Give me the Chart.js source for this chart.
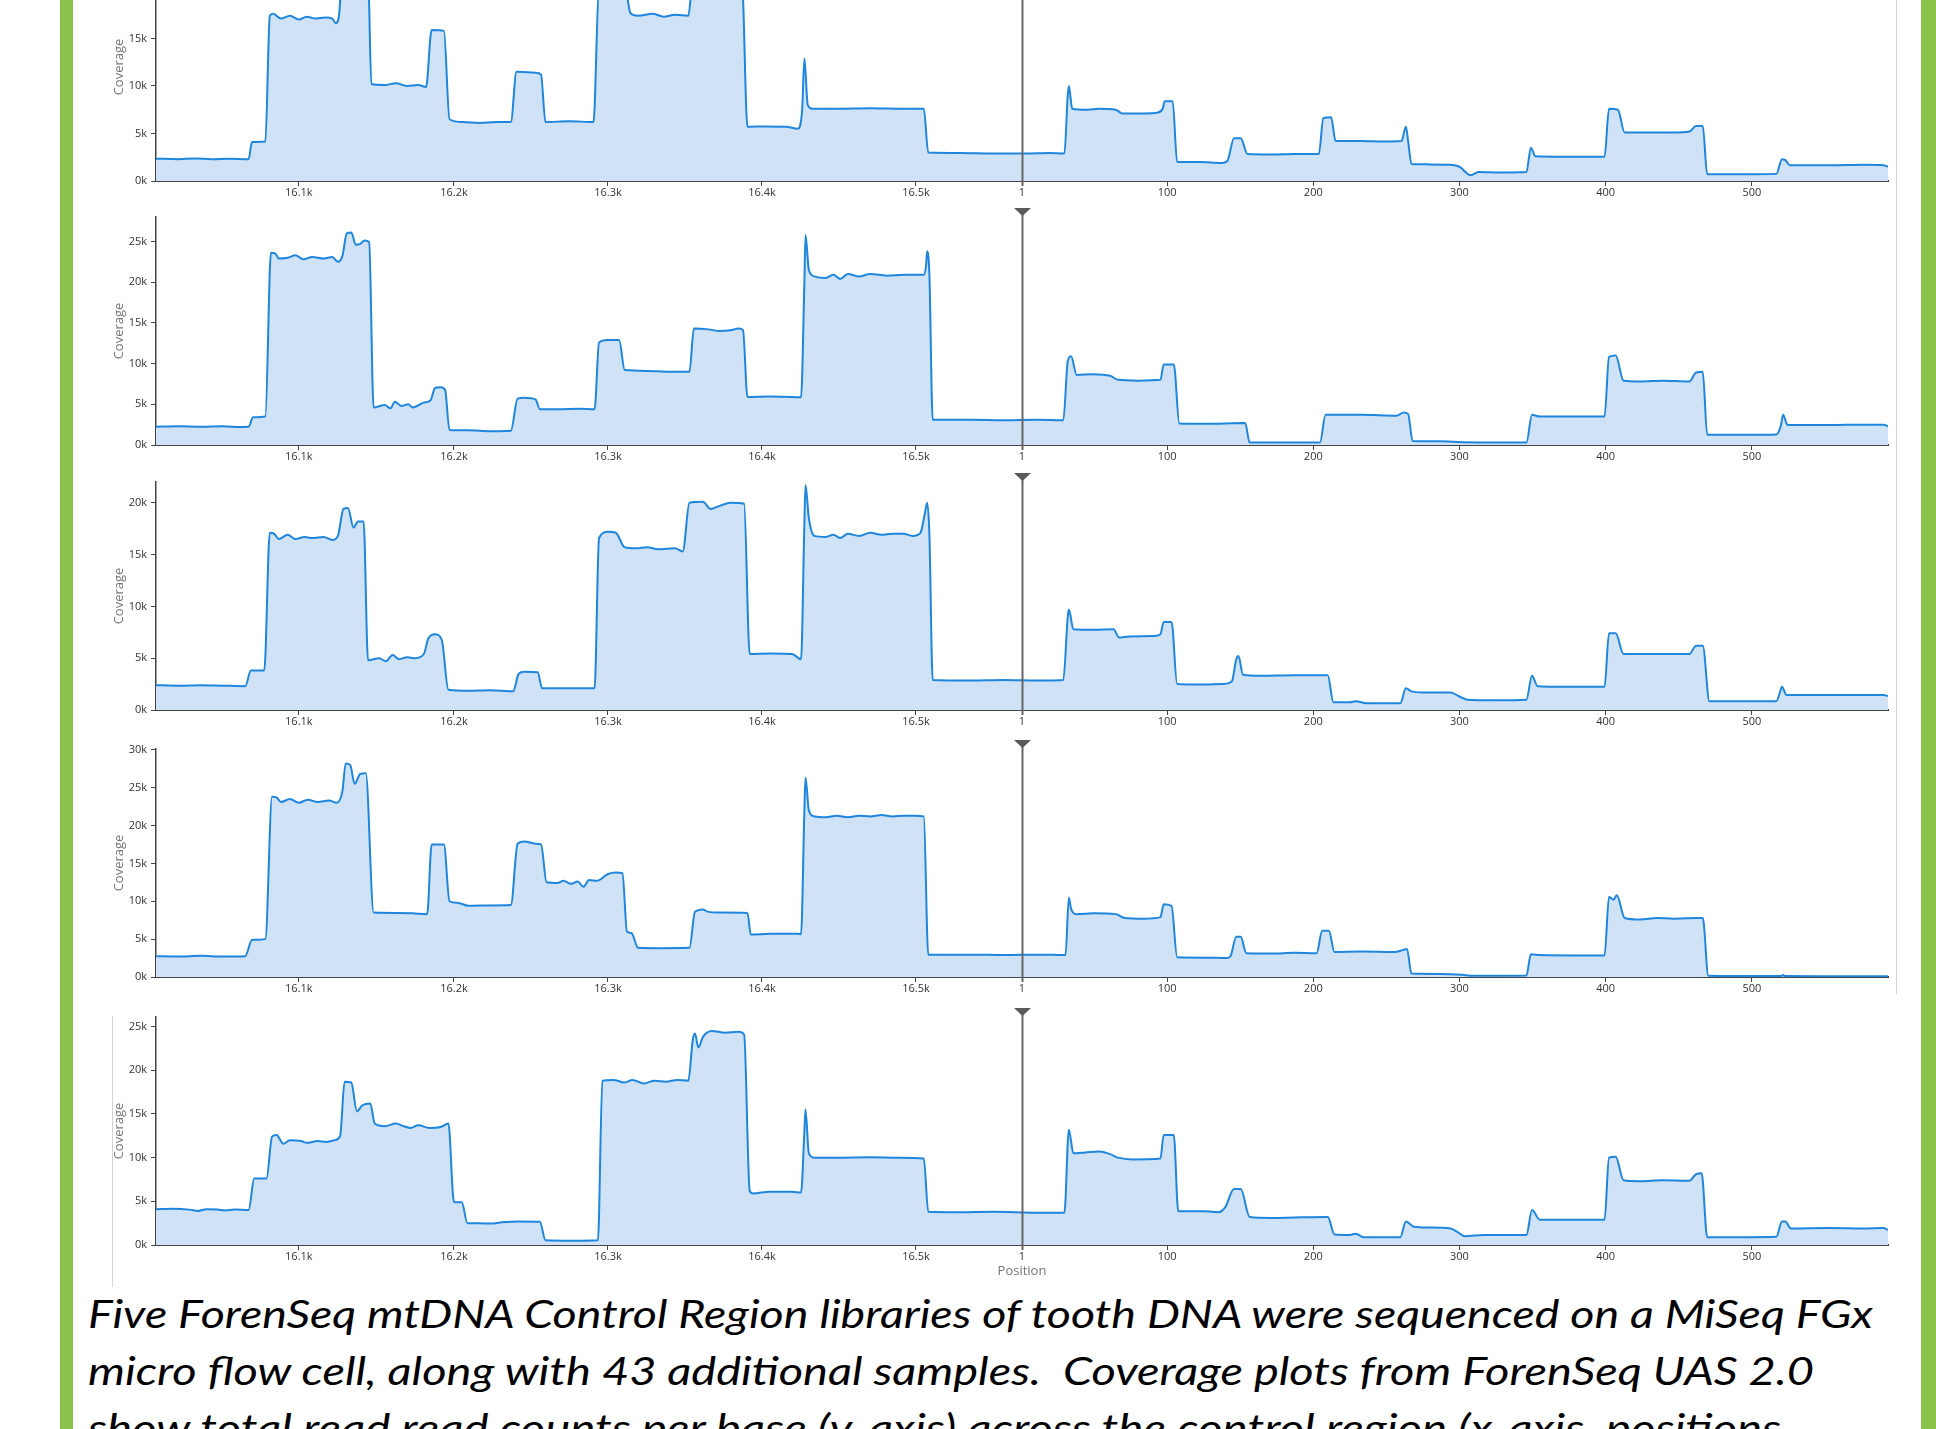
<!DOCTYPE html>
<html>
<head>
<meta charset="utf-8">
<script src="https://cdn.jsdelivr.net/npm/chart.js@4.4.0/dist/chart.umd.min.js"></script>
<style>
html, body { margin: 0; padding: 0; background: #fff; }
body { width: 1936px; height: 1429px; position: relative; overflow: hidden; }
.bar { position: absolute; top: 0; height: 1429px; background: #8bc34a; }
.rule { position: absolute; width: 1px; background: #d4d4d4; }
.caption { position: absolute; left: 88px; top: 0; font-family: Lato, 'Open Sans', sans-serif; font-style: italic;
  font-size: 39px; line-height: 39px; color: #000; white-space: pre; transform-origin: 0 0; }
.caption .b { display: inline-block; width: 0; height: 0; }
</style>
</head>
<body>
<div class="bar" style="left:60px;width:13px"></div>
<div class="bar" style="left:1921px;width:15px"></div>
<div class="rule" style="left:1896px;top:0;height:994px"></div>
<div class="rule" style="left:112px;top:1016px;height:271px"></div>

<div class="caption" data-base="1328" data-w="1785"><span class="t">Five ForenSeq mtDNA Control Region libraries of tooth DNA were sequenced on a MiSeq FGx</span><span class="b"></span></div>
<div class="caption" data-base="1385" data-w="1726"><span class="t">micro flow cell, along with 43 additional samples.  Coverage plots from ForenSeq UAS 2.0</span><span class="b"></span></div>
<div class="caption" data-base="1442" data-w="1693"><span class="t">show total read read counts per base (y-axis) across the control region (x-axis, positions</span><span class="b"></span></div>

<script>
// x axis is the plot index (bases incl. insertions), ticks placed where UAS puts them
const xTickIdx = [128, 267, 405, 543, 681, 776, 906, 1037, 1168, 1299, 1430];
const xTickLabels = ['16.1k', '16.2k', '16.3k', '16.4k', '16.5k', '1', '100', '200', '300', '400', '500'];
const xMaxIdx = 1552;
const originIdx = 776; // position 1

// y axis top for each library, coverage in thousands
const yMaxK = [24, 28, 22, 30.1, 26.1];

// coverage per library: [plot index, coverage (k)]
const coverage1 = [
  [0,2.35],[20,2.3],[35,2.38],[50,2.3],[65,2.35],[83,2.3],
  [86,4.1],[98,4.15],
  [102,17.4],[105,17.6],[112,17.1],[120,17.4],[128,17.0],[135,17.3],[143,17.1],[152,17.2],[158,17.1],[161,16.6],[164,17.4],
  [167,22],[185,22.2],[190,21.8],
  [193,10.2],[205,10.1],[215,10.3],[225,10.0],[235,10.1],[242,9.9],
  [247,15.9],[258,15.8],
  [263,6.5],[275,6.2],[290,6.1],[305,6.2],[318,6.2],
  [323,11.5],[340,11.4],[345,11.2],
  [349,6.2],[370,6.3],[392,6.2],
  [397,20.5],[420,20.8],
  [425,17.7],[432,17.4],[445,17.6],[455,17.3],[465,17.5],[477,17.4],
  [481,21],[525,21],
  [530,5.7],[545,5.75],[565,5.7],[575,5.5],
  [579,7.5],[581,12.9],[584,8],[588,7.6],[610,7.6],[640,7.65],[670,7.6],[688,7.6],
  [692,3.0],[720,2.95],[750,2.9],[780,2.9],[800,2.95],[814,2.9],
  [817,9.0],[818,10.0],[821,7.6],[835,7.5],[845,7.6],[860,7.5],[866,7.1],[885,7.1],[898,7.2],[902,7.6],[904,8.4],[911,8.4],
  [915,2.0],[935,2.0],[955,1.9],[960,2.1],
  [966,4.5],[972,4.5],
  [978,2.85],[1000,2.8],[1020,2.85],[1042,2.85],
  [1046,6.6],[1053,6.7],
  [1057,4.2],[1080,4.2],[1100,4.15],[1116,4.2],[1120,5.7],[1122,4.2],
  [1125,1.8],[1140,1.75],[1160,1.7],[1168,1.5],[1178,0.6],[1185,0.95],[1205,0.9],[1228,0.95],
  [1232,3.5],[1236,2.6],[1260,2.55],[1298,2.55],
  [1302,7.6],[1310,7.5],[1316,5.1],[1340,5.1],[1360,5.1],[1374,5.2],[1380,5.8],[1386,5.8],
  [1390,0.7],[1420,0.7],[1452,0.75],
  [1457,2.3],[1460,2.2],[1464,1.65],[1500,1.65],[1530,1.7],[1548,1.65],[1552,1.5]
];
const coverage2 = [
  [0,2.25],[20,2.3],[40,2.25],[60,2.3],[75,2.2],[83,2.25],
  [87,3.4],[98,3.5],
  [103,23.6],[107,23.5],[110,22.9],[118,23.0],[125,23.3],[132,22.8],[140,23.1],[150,22.9],[158,23.1],[163,22.5],[167,23.2],[171,26.0],[175,26.1],[179,24.6],[183,24.7],[187,25.1],[191,24.9],
  [195,4.6],[205,4.9],[210,4.5],[214,5.3],[220,4.8],[226,5.0],[230,4.6],[240,5.2],[246,5.5],[250,7.0],[255,7.1],[259,6.8],
  [263,1.85],[280,1.8],[300,1.7],[318,1.75],
  [324,5.7],[330,5.8],[340,5.6],[344,4.4],[360,4.4],[380,4.45],[393,4.4],
  [397,12.6],[405,12.9],[415,12.9],[420,9.2],[440,9.1],[460,9.0],[478,9.0],
  [482,14.3],[495,14.2],[505,14.0],[515,14.1],[522,14.3],[526,14.1],
  [530,5.9],[550,5.95],[570,5.9],[578,5.85],
  [581,20],[582,25.8],[585,21.5],[590,20.7],[600,20.5],[607,20.9],[613,20.4],[620,21.0],[630,20.7],[640,21.0],[655,20.8],[670,20.9],[688,20.9],[690,22],[691,23.8],[693,21],
  [696,3.1],[730,3.1],[760,3.05],[790,3.1],[813,3.05],
  [817,10.3],[820,10.9],[825,8.6],[840,8.7],[855,8.5],[862,8.0],[880,7.9],[900,8.0],[903,9.9],[912,9.9],
  [917,2.65],[940,2.6],[976,2.7],
  [980,0.3],[1020,0.3],[1043,0.3],
  [1048,3.7],[1080,3.7],[1112,3.6],[1118,4.0],[1122,3.8],
  [1126,0.5],[1150,0.45],[1170,0.35],[1200,0.3],[1228,0.3],
  [1233,3.7],[1240,3.5],[1270,3.5],[1298,3.5],
  [1302,10.8],[1308,11.0],[1315,7.9],[1330,7.8],[1350,7.9],[1374,7.8],[1380,8.9],[1386,9.0],
  [1390,1.25],[1420,1.25],[1452,1.3],
  [1456,2.4],[1458,3.7],[1462,2.45],[1500,2.45],[1530,2.5],[1548,2.5],[1552,2.3]
];
const coverage3 = [
  [0,2.4],[20,2.35],[40,2.4],[60,2.35],[80,2.3],
  [85,3.8],[97,3.8],
  [102,17.1],[106,17.0],[110,16.5],[118,16.9],[125,16.5],[133,16.7],[140,16.6],[150,16.7],[158,16.4],[163,16.8],[168,19.4],[172,19.5],[177,17.6],[181,18.2],[186,18.2],
  [190,4.8],[200,5.0],[206,4.7],[212,5.3],[218,4.9],[225,5.1],[232,5.0],[240,5.4],[244,6.9],[250,7.3],[256,6.8],
  [262,1.95],[280,1.85],[300,1.9],[320,1.8],
  [325,3.5],[330,3.7],[342,3.65],[346,2.1],[370,2.1],[393,2.1],
  [397,16.6],[405,17.2],[412,17.1],[420,15.7],[430,15.6],[440,15.7],[450,15.5],[465,15.6],[472,15.3],
  [478,20.0],[490,20.1],[497,19.4],[505,19.7],[515,20.0],[527,19.9],
  [532,5.4],[550,5.45],[570,5.4],[578,4.9],
  [581,18],[582,21.7],[585,18.5],[590,16.8],[600,16.7],[607,16.9],[613,16.6],[620,17.0],[630,16.8],[640,17.1],[650,16.9],[660,17.0],[670,17.0],[678,16.8],[685,17.1],[689,19],[691,20.0],[693,17],
  [696,2.9],[730,2.85],[760,2.9],[790,2.85],[813,2.9],
  [817,9.0],[818,9.7],[822,7.8],[840,7.75],[858,7.8],[863,7.0],[872,7.1],[895,7.15],[900,7.3],[903,8.5],[910,8.5],
  [915,2.5],[935,2.45],[955,2.5],[964,2.75],
  [968,4.9],[970,5.2],[974,3.4],[990,3.3],[1020,3.35],[1050,3.35],
  [1055,0.75],[1070,0.75],[1075,0.85],[1085,0.65],[1115,0.65],
  [1120,2.1],[1125,1.8],[1135,1.7],[1160,1.7],[1168,1.3],[1175,1.0],[1200,0.95],[1228,1.0],
  [1233,3.3],[1238,2.3],[1260,2.25],[1298,2.25],
  [1302,7.4],[1308,7.4],[1315,5.4],[1340,5.4],[1374,5.4],[1380,6.2],[1386,6.2],
  [1392,0.85],[1420,0.85],[1452,0.85],
  [1456,2.0],[1457,2.25],[1461,1.45],[1500,1.45],[1530,1.45],[1548,1.45],[1552,1.35]
];
const coverage4 = [
  [0,2.75],[20,2.7],[40,2.8],[60,2.7],[80,2.75],
  [86,4.9],[98,5.0],
  [104,23.8],[108,23.7],[112,23.1],[120,23.5],[128,23.0],[136,23.4],[145,23.1],[155,23.3],[162,23.0],[167,24.5],[170,28.2],[174,28.0],[178,25.5],[183,26.8],[188,26.9],
  [195,8.5],[215,8.45],[230,8.4],[243,8.3],
  [247,17.5],[258,17.5],
  [263,10.0],[270,9.8],[280,9.4],[300,9.45],[318,9.5],
  [324,17.6],[330,17.9],[340,17.6],[345,17.5],
  [350,12.5],[360,12.4],[365,12.7],[372,12.3],[378,12.6],[383,11.9],[388,12.8],[395,12.7],[405,13.6],[412,13.8],[418,13.7],
  [422,6.0],[426,5.8],[432,3.85],[450,3.8],[478,3.85],
  [483,8.6],[490,8.9],[495,8.6],[505,8.5],[530,8.45],
  [533,5.6],[550,5.7],[575,5.7],[578,5.65],
  [581,22],[582,26.3],[585,22],[590,21.2],[600,21.1],[610,21.3],[620,21.1],[630,21.3],[640,21.2],[650,21.4],[660,21.2],[670,21.3],[680,21.3],[688,21.2],
  [692,2.95],[730,2.95],[760,2.9],[790,2.95],[815,2.9],
  [818,10.5],[820,9.0],[825,8.3],[840,8.4],[860,8.3],[868,7.8],[885,7.7],[900,7.9],[903,9.6],[910,9.4],
  [915,2.6],[940,2.55],[960,2.5],[963,2.8],
  [968,5.3],[972,5.3],[977,3.15],[1000,3.1],[1020,3.2],[1040,3.15],
  [1045,6.1],[1051,6.1],[1056,3.3],[1080,3.35],[1110,3.3],[1118,3.6],[1121,3.7],
  [1125,0.45],[1150,0.4],[1170,0.3],[1180,0.15],[1228,0.2],
  [1232,3.0],[1240,2.9],[1270,2.85],[1298,2.85],
  [1302,10.6],[1306,10.2],[1309,10.8],[1316,7.8],[1330,7.6],[1345,7.8],[1360,7.7],[1380,7.8],[1386,7.8],
  [1391,0.15],[1420,0.12],[1456,0.12],[1458,0.25],[1460,0.12],[1500,0.1],[1552,0.1]
];
const coverage5 = [
  [0,4.1],[15,4.15],[30,4.05],[38,3.9],[45,4.1],[55,4.05],[62,3.95],[70,4.05],[83,4.0],
  [88,7.6],[99,7.6],
  [104,12.4],[108,12.6],[114,11.6],[120,12.0],[130,11.9],[135,11.7],[145,11.9],[152,11.8],[160,12.0],[165,12.5],[169,18.7],[175,18.6],[180,15.3],[185,16.0],[192,16.2],
  [196,13.9],[205,13.6],[215,13.9],[222,13.6],[228,13.4],[235,13.7],[245,13.4],[255,13.5],[262,13.9],
  [267,4.9],[274,4.9],[279,2.5],[290,2.5],[300,2.45],[310,2.6],[325,2.7],[344,2.65],
  [349,0.55],[375,0.5],[396,0.55],
  [400,18.8],[410,18.9],[420,18.6],[427,18.9],[437,18.5],[447,18.8],[457,18.7],[467,18.9],[477,18.8],
  [481,23.5],[483,24.2],[486,22.6],[490,23.8],[498,24.5],[510,24.3],[522,24.4],[527,24.1],
  [532,6.2],[535,5.9],[550,6.1],[570,6.1],[578,6.0],
  [581,13],[582,15.5],[585,10.5],[590,10.0],[610,10.0],[640,10.05],[665,10.0],[688,9.9],
  [692,3.8],[720,3.75],[750,3.8],[790,3.7],[814,3.7],
  [818,13.2],[822,10.5],[833,10.6],[845,10.7],[855,10.4],[862,10.0],[875,9.8],[900,9.9],[903,12.6],[912,12.6],
  [916,3.85],[940,3.85],[952,3.75],[958,4.3],
  [966,6.4],[972,6.4],[980,3.2],[1000,3.1],[1020,3.15],[1050,3.2],
  [1056,1.2],[1070,1.15],[1075,1.3],[1082,0.9],[1115,0.9],
  [1120,2.7],[1127,2.1],[1140,2.0],[1160,1.9],[1166,1.5],[1173,1.0],[1190,1.15],[1228,1.15],
  [1233,4.0],[1240,2.9],[1270,2.9],[1298,2.9],
  [1302,10.0],[1308,10.1],[1315,7.4],[1330,7.3],[1350,7.4],[1374,7.35],[1380,8.1],[1385,8.2],
  [1390,0.9],[1420,0.9],[1452,0.95],
  [1457,2.7],[1460,2.7],[1465,1.9],[1500,1.95],[1530,1.9],[1548,1.95],[1552,1.7]
];
const libraries = [coverage1, coverage2, coverage3, coverage4, coverage5];

// page layout
const axisY = [181, 445, 710, 976.5, 1244.5]; // pixel row of each x axis
const plotH = 228;
const padTop = 20;
const canvasLeft = 107;
const canvasWidth = 1793;

const tickFont = { family: "'Open Sans', sans-serif", size: 11 };
const titleFont = { family: "'Open Sans', sans-serif", size: 13 };

// vertical marker with triangle at position 1
const originMarker = {
    id: 'originMarker',
    afterDatasetsDraw(chart) {
        const { ctx, chartArea, scales } = chart;
        const x = Math.round(scales.x.getPixelForValue(originIdx)) + 0.5;
        ctx.save();
        ctx.strokeStyle = '#666';
        ctx.lineWidth = 2;
        ctx.beginPath();
        ctx.moveTo(x, chartArea.top - 4);
        ctx.lineTo(x, chartArea.bottom + 5);
        ctx.stroke();
        ctx.fillStyle = '#5a5a5a';
        ctx.beginPath();
        ctx.moveTo(x - 8.5, chartArea.top - 9);
        ctx.lineTo(x + 8.5, chartArea.top - 9);
        ctx.lineTo(x, chartArea.top - 1);
        ctx.closePath();
        ctx.fill();
        ctx.restore();
    }
};

function drawLibrary(i) {
    const showTitle = i === libraries.length - 1;
    const xH = showTitle ? 38 : 30;
    const height = padTop + plotH + xH;
    const canvas = document.createElement('canvas');
    canvas.width = canvasWidth;
    canvas.height = height;
    canvas.style.cssText = 'position:absolute;left:' + canvasLeft + 'px;top:' + (axisY[i] - plotH - padTop) +
        'px;width:' + canvasWidth + 'px;height:' + height + 'px';
    document.body.appendChild(canvas);

    new Chart(canvas.getContext('2d'), {
        type: 'line',
        data: {
            datasets: [{
                data: libraries[i].map(p => ({ x: p[0], y: p[1] })),
                borderColor: '#1e86dc',
                backgroundColor: '#cfe2f6',
                borderWidth: 2,
                fill: 'origin',
                pointRadius: 0,
                cubicInterpolationMode: 'monotone'
            }]
        },
        options: {
            responsive: false,
            animation: false,
            events: [],
            layout: { padding: { top: padTop, right: 12, bottom: 0, left: 0 } },
            plugins: { legend: { display: false }, tooltip: { enabled: false } },
            scales: {
                x: {
                    type: 'linear',
                    min: 0,
                    max: xMaxIdx,
                    afterBuildTicks: s => { s.ticks = xTickIdx.map(v => ({ value: v })); },
                    afterFit: s => { s.height = xH; },
                    grid: { drawOnChartArea: false, tickLength: 5, color: '#444' },
                    border: { color: '#444', width: 2 },
                    ticks: {
                        autoSkip: false, maxRotation: 0, padding: 0, color: '#333', font: tickFont,
                        callback: (v, idx) => xTickLabels[idx]
                    },
                    title: { display: showTitle, text: 'Position', color: '#777', font: titleFont }
                },
                y: {
                    min: 0,
                    max: yMaxK[i],
                    afterFit: s => { s.width = 49; },
                    grid: { drawOnChartArea: false, tickLength: 5, color: '#444' },
                    border: { color: '#444', width: 1.5 },
                    ticks: {
                        stepSize: 5, includeBounds: false, padding: 4, color: '#333', font: tickFont,
                        callback: v => v + 'k'
                    },
                    title: { display: true, text: 'Coverage', color: '#777', font: titleFont }
                }
            }
        },
        plugins: [originMarker]
    });
}

libraries.forEach((lib, i) => drawLibrary(i));

// caption lines: put baseline and width where the slide has them
document.querySelectorAll('.caption').forEach(el => {
    const t = el.querySelector('.t');
    const b = el.querySelector('.b');
    const base = b.getBoundingClientRect().top;
    el.style.top = (parseFloat(el.dataset.base) - base) + 'px';
    const w = t.getBoundingClientRect().width;
    el.style.transform = 'scaleX(' + (parseFloat(el.dataset.w) / w) + ')';
});
</script>
</body>
</html>
